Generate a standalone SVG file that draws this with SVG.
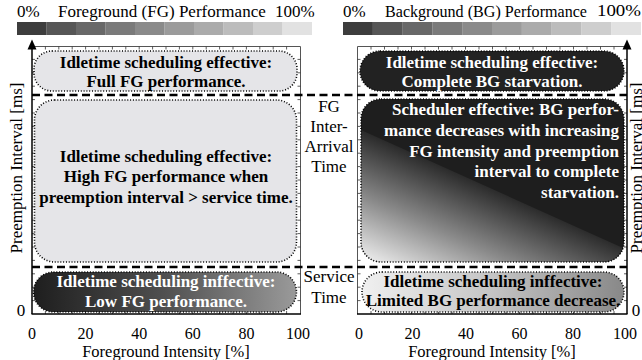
<svg xmlns="http://www.w3.org/2000/svg" width="642" height="360" viewBox="0 0 642 360">
<style>
text{font-family:"Liberation Serif","Times New Roman",serif;font-size:17px;fill:#000}
.b{font-weight:bold}
.w{fill:#fff}
.c{text-anchor:middle}
.e{text-anchor:end}
.t{font-size:16px}
.xt{font-size:16.5px}
.dot{stroke:#000;stroke-width:1.6;stroke-dasharray:1 1.8;}
.frame{fill:none;stroke:#555;stroke-width:1}
.axis{fill:none;stroke:#000;stroke-width:1.5}
.dash{fill:none;stroke:#000;stroke-width:2.6;stroke-dasharray:8 4.5}
.tick{fill:none;stroke:#333;stroke-width:0.8}
</style>
<defs>
<linearGradient id="gLB" x1="0" y1="0" x2="1" y2="0">
<stop offset="0" stop-color="#1e1e1e"/><stop offset="0.5" stop-color="#505050"/><stop offset="1" stop-color="#9a9a9a"/>
</linearGradient>
<linearGradient id="gRB" x1="0" y1="0" x2="1" y2="0">
<stop offset="0" stop-color="#f0f0f0"/><stop offset="0.5" stop-color="#c4c4c4"/><stop offset="1" stop-color="#888"/>
</linearGradient>
<linearGradient id="gRM" gradientUnits="userSpaceOnUse" x1="411" y1="152" x2="362" y2="262">
<stop offset="0" stop-color="#2a2a2a"/><stop offset="0.5" stop-color="#8a8a8a"/><stop offset="1" stop-color="#f2f2f2"/>
</linearGradient>
<clipPath id="cRM"><rect x="361" y="99" width="263" height="163" rx="20"/></clipPath>
</defs>

<!-- Color bars / titles -->
<g id="legend-fg">
<text x="17" y="17">0%</text>
<text x="58" y="17">Foreground (FG) Performance</text>
<text x="275" y="17">100%</text>
<rect x="17" y="22" width="29.6" height="13" fill="#3d3d3d"/>
<rect x="46.5" y="22" width="29.6" height="13" fill="#565656"/>
<rect x="76" y="22" width="29.6" height="13" fill="#686868"/>
<rect x="105.5" y="22" width="29.6" height="13" fill="#7a7a7a"/>
<rect x="135" y="22" width="29.6" height="13" fill="#8a8a8a"/>
<rect x="164.5" y="22" width="29.6" height="13" fill="#9b9b9b"/>
<rect x="194" y="22" width="29.6" height="13" fill="#ababab"/>
<rect x="223.5" y="22" width="29.6" height="13" fill="#bcbcbc"/>
<rect x="253" y="22" width="29.6" height="13" fill="#cecece"/>
<rect x="282.5" y="22" width="29.5" height="13" fill="#e2e2e2"/>
</g>
<g id="legend-bg">
<text x="343" y="17">0%</text>
<text x="385" y="17" textLength="202" lengthAdjust="spacingAndGlyphs">Background (BG) Performance</text>
<text x="597" y="16" textLength="44" lengthAdjust="spacingAndGlyphs">100%</text>
<rect x="343" y="22" width="29.9" height="13" fill="#3d3d3d"/>
<rect x="372.8" y="22" width="29.9" height="13" fill="#565656"/>
<rect x="402.6" y="22" width="29.9" height="13" fill="#686868"/>
<rect x="432.4" y="22" width="29.9" height="13" fill="#7a7a7a"/>
<rect x="462.2" y="22" width="29.9" height="13" fill="#8a8a8a"/>
<rect x="492" y="22" width="29.9" height="13" fill="#9b9b9b"/>
<rect x="521.8" y="22" width="29.9" height="13" fill="#ababab"/>
<rect x="551.6" y="22" width="29.9" height="13" fill="#bcbcbc"/>
<rect x="581.4" y="22" width="29.9" height="13" fill="#cecece"/>
<rect x="611.2" y="22" width="29.8" height="13" fill="#e2e2e2"/>
</g>

<!-- Frames and ticks -->
<g id="frames">
<path class="frame" d="M32,46.5 H300.5 V314 M357.5,314 V46.5 H627"/>
<path class="tick" d="M45.4,46.5v3M58.8,46.5v3M72.2,46.5v3M85.6,46.5v3M99,46.5v3M112.4,46.5v3M125.8,46.5v3M139.2,46.5v3M152.6,46.5v3M166,46.5v3M179.4,46.5v3M192.8,46.5v3M206.2,46.5v3M219.6,46.5v3M233,46.5v3M246.4,46.5v3M259.8,46.5v3M273.2,46.5v3M286.6,46.5v3
M45.4,314v-3M58.8,314v-3M72.2,314v-3M85.6,314v-3M99,314v-3M112.4,314v-3M125.8,314v-3M139.2,314v-3M152.6,314v-3M166,314v-3M179.4,314v-3M192.8,314v-3M206.2,314v-3M219.6,314v-3M233,314v-3M246.4,314v-3M259.8,314v-3M273.2,314v-3M286.6,314v-3
M32,300.6h3M32,287.2h3M32,273.8h3M32,260.4h3M32,247h3M32,233.6h3M32,220.2h3M32,206.8h3M32,193.4h3M32,180h3M32,166.6h3M32,153.2h3M32,139.8h3M32,126.4h3M32,113h3M32,99.6h3M32,86.2h3M32,72.8h3M32,59.4h3
M300.5,300.6h-3M300.5,287.2h-3M300.5,273.8h-3M300.5,260.4h-3M300.5,247h-3M300.5,233.6h-3M300.5,220.2h-3M300.5,206.8h-3M300.5,193.4h-3M300.5,180h-3M300.5,166.6h-3M300.5,153.2h-3M300.5,139.8h-3M300.5,126.4h-3M300.5,113h-3M300.5,99.6h-3M300.5,86.2h-3M300.5,72.8h-3M300.5,59.4h-3"/>
<path class="tick" d="M371,46.5v3M384.5,46.5v3M398,46.5v3M411.5,46.5v3M425,46.5v3M438.5,46.5v3M452,46.5v3M465.5,46.5v3M479,46.5v3M492.5,46.5v3M506,46.5v3M519.5,46.5v3M533,46.5v3M546.5,46.5v3M560,46.5v3M573.5,46.5v3M587,46.5v3M600.5,46.5v3M614,46.5v3
M371,314v-3M384.5,314v-3M398,314v-3M411.5,314v-3M425,314v-3M438.5,314v-3M452,314v-3M465.5,314v-3M479,314v-3M492.5,314v-3M506,314v-3M519.5,314v-3M533,314v-3M546.5,314v-3M560,314v-3M573.5,314v-3M587,314v-3M600.5,314v-3M614,314v-3
M357.5,300.6h3M357.5,287.2h3M357.5,273.8h3M357.5,260.4h3M357.5,247h3M357.5,233.6h3M357.5,220.2h3M357.5,206.8h3M357.5,193.4h3M357.5,180h3M357.5,166.6h3M357.5,153.2h3M357.5,139.8h3M357.5,126.4h3M357.5,113h3M357.5,99.6h3M357.5,86.2h3M357.5,72.8h3M357.5,59.4h3
M627,300.6h-3M627,287.2h-3M627,273.8h-3M627,260.4h-3M627,247h-3M627,233.6h-3M627,220.2h-3M627,206.8h-3M627,193.4h-3M627,180h-3M627,166.6h-3M627,153.2h-3M627,139.8h-3M627,126.4h-3M627,113h-3M627,99.6h-3M627,86.2h-3M627,72.8h-3M627,59.4h-3"/>
</g>

<!-- Left plot boxes -->
<g id="fg-top">
<rect class="dot" x="34" y="51" width="263" height="40" rx="18" fill="#e5e5e8"/>
<text class="b c" x="166" y="68">Idletime scheduling effective:</text>
<text class="b c" x="166" y="87">Full FG performance.</text>
</g>
<g id="fg-mid">
<rect class="dot" x="34.5" y="100" width="262" height="162" rx="20" fill="#e5e5e8"/>
<text class="b c" x="166" y="162">Idletime scheduling effective:</text>
<text class="b c" x="166" y="182">High FG performance when</text>
<text class="b c" x="166" y="203">preemption interval &gt; service time.</text>
</g>
<g id="fg-bot">
<rect class="dot" x="33.5" y="272" width="263" height="40" rx="20" fill="url(#gLB)"/>
<text class="b c w" x="166" y="287">Idletime scheduling inffective:</text>
<text class="b c w" x="166" y="307">Low FG performance.</text>
</g>

<!-- Right plot boxes -->
<g id="bg-top">
<rect class="dot" x="360" y="51" width="264" height="40" rx="20" fill="#222"/>
<text class="b c w" x="492" y="68">Idletime scheduling effective:</text>
<text class="b c w" x="492" y="87">Complete BG starvation.</text>
</g>
<g id="bg-mid">
<rect x="361" y="99" width="263" height="163" rx="20" fill="#1e1e1e"/>
<polygon clip-path="url(#cRM)" points="361,130 623,248 624,262 361,262" fill="url(#gRM)"/>
<rect class="dot" x="361" y="99" width="263" height="163" rx="20" fill="none"/>
<text class="b e w" x="619" y="115">Scheduler effective: BG perfor-</text>
<text class="b e w" x="619" y="136">mance decreases with increasing</text>
<text class="b e w" x="619" y="157">FG intensity and preemption</text>
<text class="b e w" x="619" y="177">interval to complete</text>
<text class="b e w" x="619" y="198">starvation.</text>
</g>
<g id="bg-bot">
<rect class="dot" x="362" y="272" width="262" height="40" rx="20" fill="url(#gRB)"/>
<text class="b c" x="493" y="287">Idletime scheduling inffective:</text>
<text class="b c" x="493" y="306">Limited BG performance decrease.</text>
</g>

<!-- Axes and threshold lines -->
<g id="connectors">
<line class="axis" x1="32" y1="314" x2="32" y2="48"/>
<polygon points="32,39.5 27.5,49.5 36.5,49.5" fill="#000"/>
<line class="axis" x1="627" y1="314" x2="627" y2="48"/>
<polygon points="627,39.5 622.5,49.5 631.5,49.5" fill="#000"/>
<line class="axis" x1="31.5" y1="314" x2="301" y2="314"/>
<line class="axis" x1="357" y1="314" x2="627.5" y2="314"/>
<line class="dash" x1="32" y1="95" x2="627" y2="95"/>
<line class="dash" x1="32" y1="267" x2="627" y2="267"/>
</g>

<!-- Middle labels -->
<g id="label-interarrival">
<text class="c" x="329" y="112">FG</text>
<text class="c" x="329" y="132">Inter-</text>
<text class="c" x="329" y="152">Arrival</text>
<text class="c" x="329" y="172">Time</text>
</g>
<g id="label-service">
<text class="c" x="329" y="282">Service</text>
<text class="c" x="329" y="303">Time</text>
</g>

<!-- Axis labels -->
<g id="axis-labels">
<text class="c" transform="translate(22,168) rotate(-90)">Preemption Interval [ms]</text>
<text class="c" transform="translate(642,168) rotate(-90)">Preemption Interval [ms]</text>
<text x="21" y="316" class="c">0</text>
<text x="636" y="316" class="c">0</text>
<text class="c t" x="32" y="338.5">0</text>
<text class="c t" x="85.6" y="338.5">20</text>
<text class="c t" x="139.2" y="338.5">40</text>
<text class="c t" x="192.8" y="338.5">60</text>
<text class="c t" x="246.4" y="338.5">80</text>
<text class="c t" x="298" y="338.5">100</text>
<text class="c xt" x="166" y="356.5">Foreground Intensity [%]</text>
<text class="c t" x="359" y="338.5">0</text>
<text class="c t" x="412.5" y="338.5">20</text>
<text class="c t" x="466" y="338.5">40</text>
<text class="c t" x="519.5" y="338.5">60</text>
<text class="c t" x="573" y="338.5">80</text>
<text class="c t" x="625" y="338.5">100</text>
<text class="c xt" x="492" y="356.5">Foreground Intensity [%]</text>
</g>
</svg>
